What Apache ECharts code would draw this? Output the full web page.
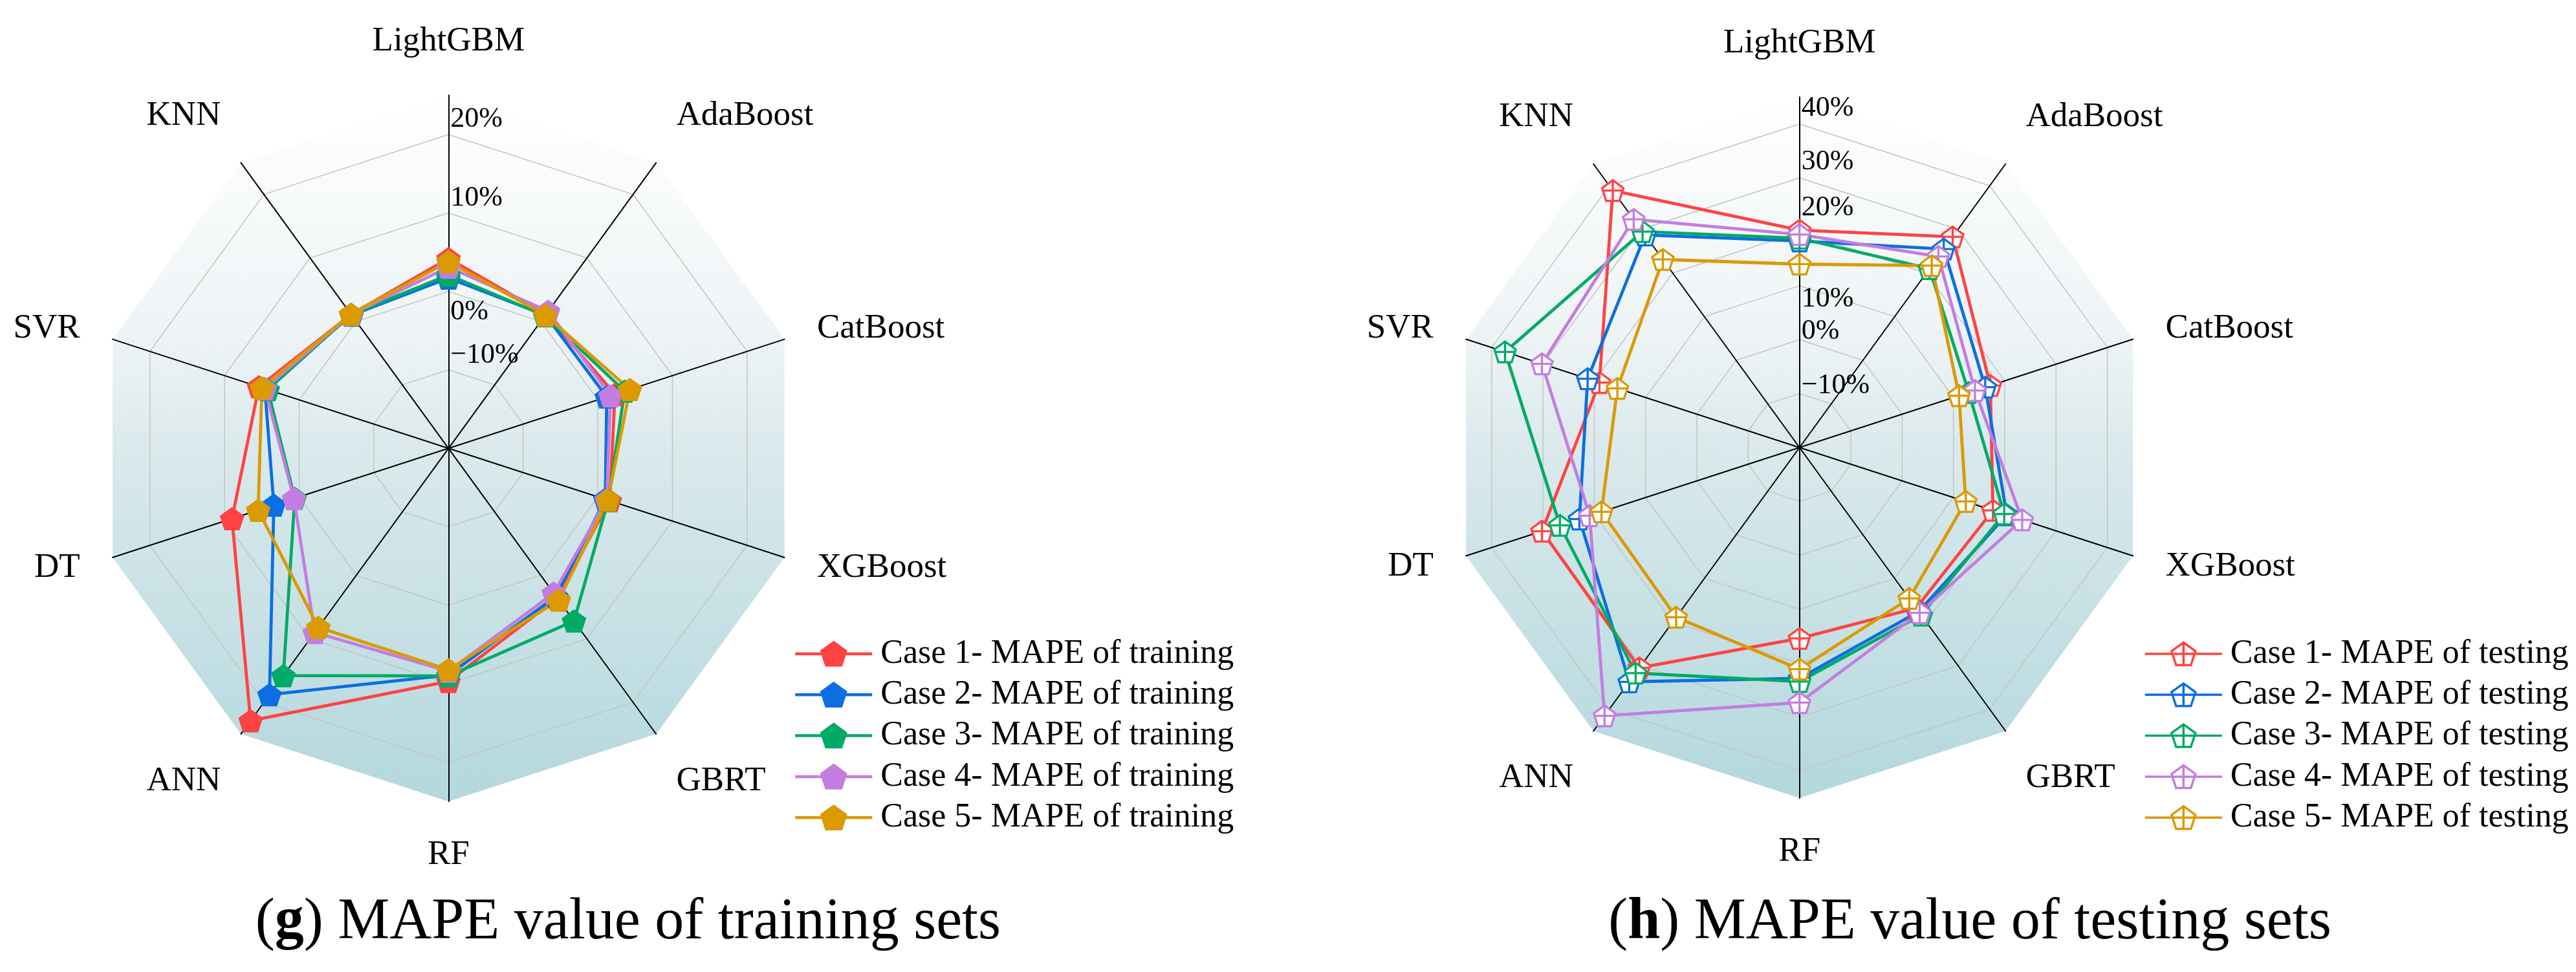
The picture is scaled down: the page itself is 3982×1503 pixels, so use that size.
<!DOCTYPE html>
<html>
<head>
<meta charset="utf-8">
<script src="https://cdn.jsdelivr.net/npm/echarts@6/dist/echarts.min.js"></script>
<style>
html,body{margin:0;padding:0;background:#ffffff;}
#chart{width:3982px;height:1503px;}
</style>
</head>
<body>
<div id="chart"></div>
<script>
// ---------- DATA (clockwise from the top, as in the figure) ----------
const categories = ['LightGBM', 'AdaBoost', 'CatBoost', 'XGBoost', 'GBRT', 'RF', 'ANN', 'DT', 'SVR', 'KNN'];

const trainNames = ['Case 1- MAPE of training', 'Case 2- MAPE of training', 'Case 3- MAPE of training',
                    'Case 4- MAPE of training', 'Case 5- MAPE of training'];
const testNames  = ['Case 1- MAPE of testing', 'Case 2- MAPE of testing', 'Case 3- MAPE of testing',
                    'Case 4- MAPE of testing', 'Case 5- MAPE of testing'];

// MAPE of training (%)
const trainCase1 = [4.2, 1.1, 2.3, 1.6, 3.6, 9.7, 22.9, 9.0, 5.4, 1.1];
const trainCase2 = [1.7, 1.0, 1.2, 1.0, 3.3, 8.9, 18.8, 3.4, 4.6, 1.0];
const trainCase3 = [2.1, 0.9, 3.6, 1.4, 7.2, 9.0, 15.8, 0.6, 4.2, 1.1];
const trainCase4 = [3.1, 1.6, 1.7, 1.2, 2.8, 8.4, 9.0, 0.7, 4.6, 1.1];
const trainCase5 = [3.8, 1.0, 4.3, 1.35, 3.9, 8.2, 8.2, 5.5, 5.0, 1.15];

// MAPE of testing (%)
const testCase1 = [20.3, 28.3, 17.2, 17.7, 16.8, 15.4, 30.5, 30.2, 19.0, 38.9];
const testCase2 = [18.3, 25.5, 16.2, 20.4, 17.6, 22.8, 33.7, 22.9, 21.3, 28.7];
const testCase3 = [18.8, 21.0, 13.0, 19.9, 18.4, 23.4, 31.7, 26.7, 37.4, 29.5];
const testCase4 = [19.5, 23.8, 14.2, 23.4, 17.9, 27.3, 41.5, 20.9, 30.2, 32.3];
const testCase5 = [14.0, 21.7, 11.1, 12.4, 14.6, 21.1, 18.9, 18.6, 15.5, 23.1];

// axis ranges and tick labels
const trainRange = [-20, 25];
const testRange  = [-20, 45];
const trainTickValues = [-10, 0, 10, 20];
const trainTickLabels = ['\u221210%', '0%', '10%', '20%'];
const testTickValues  = [-10, 0, 10, 20, 30, 40];
const testTickLabels  = ['\u221210%', '0%', '10%', '20%', '30%', '40%'];

const titleTrain = 'MAPE value of training sets';
const titleTest  = 'MAPE value of testing sets';

// ---------- STYLE ----------
const FONT = '"Liberation Serif", "Times New Roman", serif';
const colors = ['#FF4343', '#0B6FE3', '#00AB66', '#C37DE0', '#DA9A00'];
const PENT = 'path://M50,0 L100,38.2 L80.9,100 L19.1,100 L0,38.2 Z';
const PENT_CROSS = 'path://M50,0 L100,38.2 L80.9,100 L19.1,100 L0,38.2 Z M50,0 L50,100 M3.65,50 L96.35,50';
const LEG_FILLED = 'path://M0,17.5 L41,17.5 M78,17.5 L119,17.5 M59.5,0 L78,13.4 L70.9,35 L48.1,35 L41,13.4 Z';
const LEG_HOLLOW = 'path://M0,17.5 L119,17.5 M59.5,0 L78,13.4 L70.9,35 L48.1,35 L41,13.4 Z M59.5,0 L59.5,35';

// ECharts places radar indicators counter-clockwise; map the clockwise figure order onto it
const ecOrder = [0, 9, 8, 7, 6, 5, 4, 3, 2, 1];
const reorder = arr => ecOrder.map(i => arr[i]);

const upperDiag = [categories[1], categories[9]];
const lowerDiag = [categories[4], categories[6]];

function bgGradient(cy, R) {
  return {
    type: 'linear', x: 0, y: cy - R, x2: 0, y2: cy + R, global: true,
    colorStops: [
      {offset: 0, color: '#ffffff'},
      {offset: 0.35, color: '#edf3f5'},
      {offset: 0.5, color: '#dbe9ec'},
      {offset: 0.65, color: '#cee4e8'},
      {offset: 1, color: '#b3d8dd'}
    ]
  };
}

function makeRadars(cx, cy, R, range, tickValues, tickLabels, shifts) {
  const rich = {};
  const fmtTick = v => {
    const i = tickValues.indexOf(Math.round(v));
    if (i < 0 || Math.abs(v - Math.round(v)) > 1e-6) return '';
    return '{t' + i + '|' + tickLabels[i] + '}';
  };
  tickValues.forEach((tv, i) => {
    const s = shifts[i];
    rich['t' + i] = {
      fontSize: 44, fontFamily: FONT, color: '#000',
      padding: s < 0 ? [0, 0, -2 * s, 0] : [2 * s, 0, 0, 0]
    };
  });
  const names = reorder(categories);
  const bg = {
    center: [cx, cy], radius: R, startAngle: 90, shape: 'polygon', splitNumber: 1, z: 0,
    indicator: names.map(n => ({name: n, min: range[0], max: range[1]})),
    axisName: {show: false},
    axisLine: {show: false}, axisTick: {show: false}, axisLabel: {show: false},
    splitLine: {show: false},
    splitArea: {show: true, areaStyle: {color: [bgGradient(cy, R)]}}
  };
  const main = {
    center: [cx, cy], radius: R, startAngle: 90, shape: 'polygon', z: 1,
    splitNumber: (range[1] - range[0]) / 5,
    nameGap: 53,
    indicator: names.map((n, k) => {
      const o = {name: n, min: range[0], max: range[1]};
      if (k === 0) {
        o.axisLabel = {show: true, margin: -3, align: 'left', color: '#000', fontSize: 44, fontFamily: FONT,
                       formatter: fmtTick, rich: rich};
      }
      return o;
    }),
    axisName: {
      color: '#000', fontSize: 53, fontFamily: FONT, lineHeight: 60,
      formatter: n => upperDiag.includes(n) ? n + '\n' : (lowerDiag.includes(n) ? '\n' + n : n)
    },
    axisLine: {show: true, lineStyle: {color: '#000', width: 2}},
    axisTick: {show: false},
    axisLabel: {show: false},
    splitLine: {show: true, lineStyle: {color: ['#c4c4c4', 'rgba(0,0,0,0)'], width: 1.5}},
    splitArea: {show: false}
  };
  return [bg, main];
}

const L = {cx: 693.3, cy: 693.3, R: 546};
const Rt = {cx: 2781.7, cy: 692, R: 542};

const radars = [].concat(
  makeRadars(L.cx, L.cy, L.R, trainRange, trainTickValues, trainTickLabels, [-23, 32, -23, -24]),
  makeRadars(Rt.cx, Rt.cy, Rt.R, testRange, testTickValues, testTickLabels, [-12, -13, 21, -37, -25, -24])
);

const trainSets = [trainCase1, trainCase2, trainCase3, trainCase4, trainCase5];
const testSets  = [testCase1, testCase2, testCase3, testCase4, testCase5];

const series = [];
trainSets.forEach((arr, i) => {
  series.push({
    type: 'radar', radarIndex: 1, name: trainNames[i], silent: true,
    symbol: PENT, symbolSize: [38, 36],
    lineStyle: {color: colors[i], width: 4.8},
    itemStyle: {color: colors[i]},
    emphasis: {disabled: true},
    data: [{name: trainNames[i], value: reorder(arr)}]
  });
});
testSets.forEach((arr, i) => {
  series.push({
    type: 'radar', radarIndex: 3, name: testNames[i], silent: true,
    symbol: PENT_CROSS, symbolSize: [33, 32],
    lineStyle: {color: colors[i], width: 4.8},
    itemStyle: {color: '#ffffff', borderColor: colors[i], borderWidth: 3.3},
    emphasis: {disabled: true},
    data: [{name: testNames[i], value: reorder(arr)}]
  });
});

function legendOf(names, left, hollow) {
  return {
    orient: 'vertical', left: left, top: 985, padding: 0,
    itemWidth: 119, itemHeight: 35, itemGap: 11.3, selectedMode: false,
    textStyle: {fontSize: 52, fontFamily: FONT, color: '#000', lineHeight: 52, padding: [0, 0, 0, 8]},
    data: names.map((n, i) => ({
      name: n,
      icon: hollow ? LEG_HOLLOW : LEG_FILLED,
      itemStyle: hollow
        ? {color: '#ffffff', borderColor: colors[i], borderWidth: 3.5}
        : {color: colors[i], borderColor: colors[i], borderWidth: 4.5}
    }))
  };
}

function titleText(x, letter, text) {
  return {
    type: 'text', x: x, y: 1427, silent: true,
    style: {
      text: '({b|' + letter + '}) ' + text,
      fontSize: 90, fontFamily: FONT, fill: '#000',
      align: 'center', verticalAlign: 'middle',
      rich: {b: {fontSize: 90, fontFamily: FONT, fontWeight: 'bold', fill: '#000'}}
    }
  };
}

const chart = echarts.init(document.getElementById('chart'), null, {renderer: 'canvas'});
chart.setOption({
  backgroundColor: '#ffffff',
  animation: false,
  radar: radars,
  legend: [legendOf(trainNames, 1227, false), legendOf(testNames, 3314, true)],
  graphic: [titleText(971, 'g', titleTrain), titleText(3045, 'h', titleTest)],
  series: series
});
</script>
</body>
</html>
